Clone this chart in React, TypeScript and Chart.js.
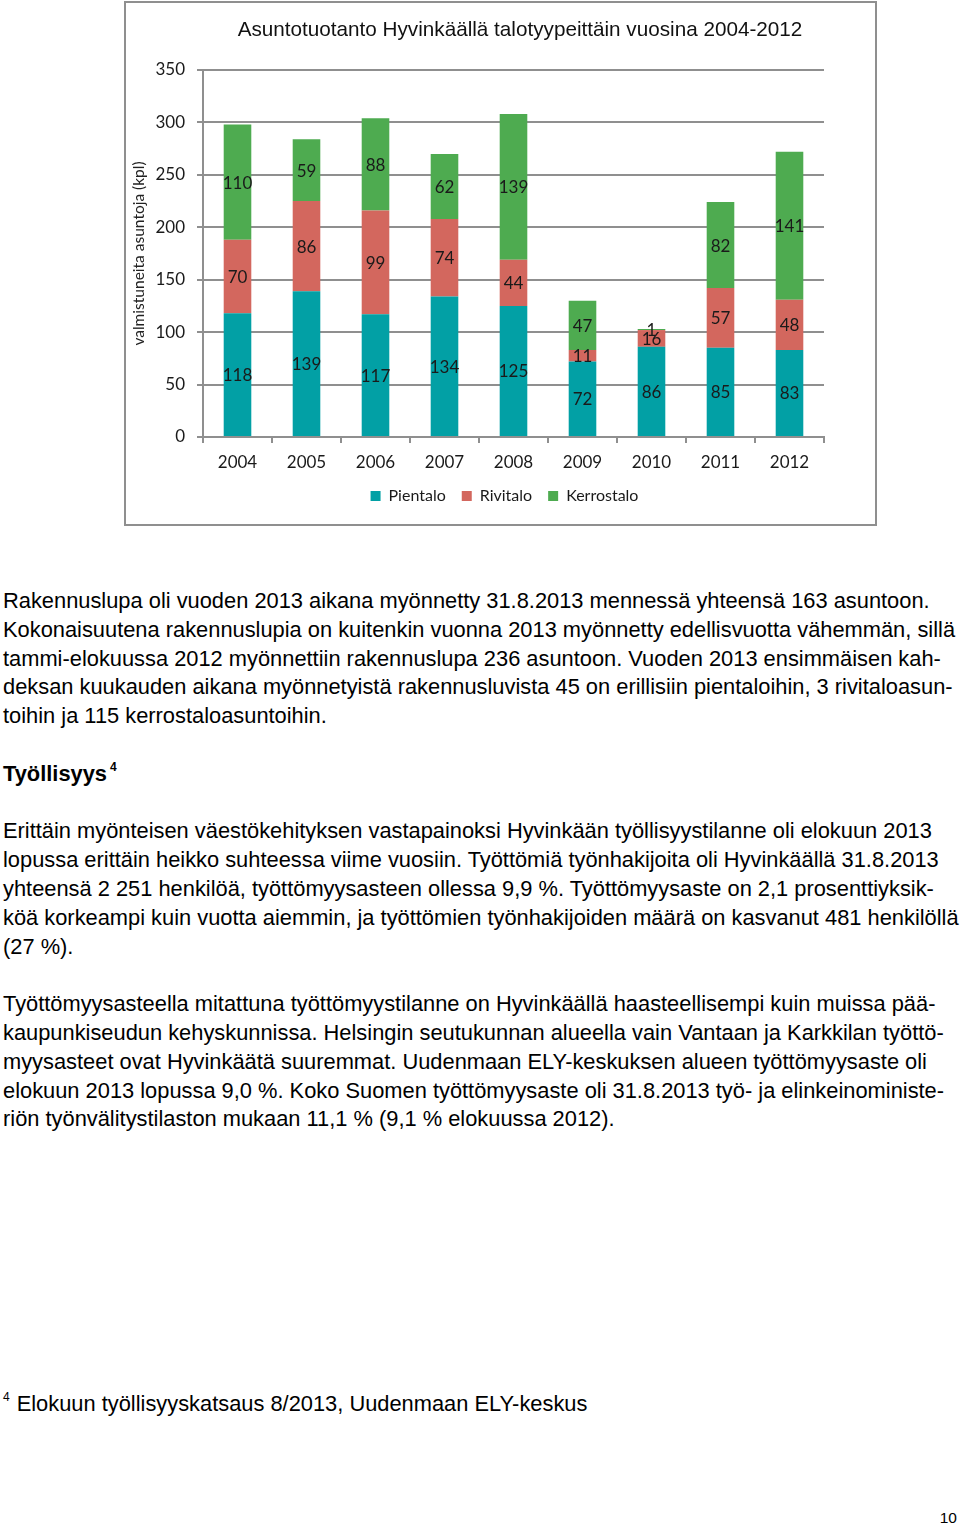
import React, { useEffect, useRef } from "react";
import { Chart, registerables } from "chart.js";

Chart.register(...registerables);

const YEARS = ["2004", "2005", "2006", "2007", "2008", "2009", "2010", "2011", "2012"];
const PIENTALO = [118, 139, 117, 134, 125, 72, 86, 85, 83];
const RIVITALO = [70, 86, 99, 74, 44, 11, 16, 57, 48];
const KERROSTALO = [110, 59, 88, 62, 139, 47, 1, 82, 141];
const SERIES_NAMES = ["Pientalo", "Rivitalo", "Kerrostalo"];
const SERIES_COLORS = ["#02a0a5", "#d3675e", "#4eab50"];
const Y_MAX = 350;
const Y_STEP = 50;
const CHART_TITLE = "Asuntotuotanto Hyvinkäällä talotyypeittäin vuosina 2004-2012";
const Y_TITLE = "valmistuneita asuntoja (kpl)";

const GRID = "#8f8f8f";
const CHART_FONT = "Lato, 'Open Sans', sans-serif";
const TEXT_FONT = "'Liberation Sans', Arial, sans-serif";

const PARA1 = [
  "Rakennuslupa oli vuoden 2013 aikana myönnetty 31.8.2013 mennessä yhteensä 163 asuntoon.",
  "Kokonaisuutena rakennuslupia on kuitenkin vuonna 2013 myönnetty edellisvuotta vähemmän, sillä",
  "tammi-elokuussa 2012 myönnettiin rakennuslupa 236 asuntoon. Vuoden 2013 ensimmäisen kah-",
  "deksan kuukauden aikana myönnetyistä rakennusluvista 45 on erillisiin pientaloihin, 3 rivitaloasun-",
  "toihin ja 115 kerrostaloasuntoihin.",
];
const PARA2 = [
  "Erittäin myönteisen väestökehityksen vastapainoksi Hyvinkään työllisyystilanne oli elokuun 2013",
  "lopussa erittäin heikko suhteessa viime vuosiin. Työttömiä työnhakijoita oli Hyvinkäällä 31.8.2013",
  "yhteensä 2 251 henkilöä, työttömyysasteen ollessa 9,9 %. Työttömyysaste on 2,1 prosenttiyksik-",
  "köä korkeampi kuin vuotta aiemmin, ja työttömien työnhakijoiden määrä on kasvanut 481 henkilöllä",
  "(27 %).",
];
const PARA3 = [
  "Työttömyysasteella mitattuna työttömyystilanne on Hyvinkäällä haasteellisempi kuin muissa pää-",
  "kaupunkiseudun kehyskunnissa. Helsingin seutukunnan alueella vain Vantaan ja Karkkilan työttö-",
  "myysasteet ovat Hyvinkäätä suuremmat. Uudenmaan ELY-keskuksen alueen työttömyysaste oli",
  "elokuun 2013 lopussa 9,0 %. Koko Suomen työttömyysaste oli 31.8.2013 työ- ja elinkeinoministe-",
  "riön työnvälitystilaston mukaan 11,1 % (9,1 % elokuussa 2012).",
];
const HEADING = "Työllisyys";
const FOOTNOTE = "Elokuun työllisyyskatsaus 8/2013, Uudenmaan ELY-keskus";
const PAGE_NO = "10";

const FS = 21.85;
const LINE = 28.8;
const B0 = 608.5;

const valueLabels = {
  id: "valueLabels",
  afterDatasetsDraw(chart: any) {
    const ctx = chart.ctx;
    ctx.save();
    ctx.font = `17px ${CHART_FONT}`;
    ctx.fillStyle = "#1a1a1a";
    ctx.textAlign = "center";
    ctx.textBaseline = "middle";
    chart.data.datasets.forEach((ds: any, i: number) => {
      const meta = chart.getDatasetMeta(i);
      meta.data.forEach((bar: any, j: number) => {
        const p = bar.getProps(["x", "y", "base"], true);
        ctx.fillText(String(ds.data[j]), p.x, (p.y + p.base) / 2 + 1);
      });
    });
    ctx.restore();
  },
};

function TextLine({ text, k }: { text: string; k: number }) {
  const baseline = B0 + LINE * k;
  return (
    <div
      style={{
        position: "absolute",
        left: 3,
        top: baseline - 0.8465 * FS,
        fontSize: FS,
        lineHeight: `${FS}px`,
        whiteSpace: "pre",
      }}
    >
      {text}
    </div>
  );
}

export default function App() {
  const canvasRef = useRef<HTMLCanvasElement | null>(null);

  useEffect(() => {
    const canvas = canvasRef.current;
    if (!canvas) return;
    const chart = new Chart(canvas, {
      type: "bar",
      data: {
        labels: YEARS,
        datasets: [PIENTALO, RIVITALO, KERROSTALO].map((d, i) => ({
          label: SERIES_NAMES[i],
          data: d,
          backgroundColor: SERIES_COLORS[i],
          borderWidth: 0,
          barPercentage: 0.4,
          categoryPercentage: 1,
        })),
      },
      options: {
        animation: false,
        responsive: false,
        layout: { padding: { top: 67, right: 0, left: 9, bottom: 9 } },
        plugins: {
          legend: {
            position: "bottom",
            labels: {
              boxWidth: 10,
              boxHeight: 10,
              padding: 16,
              color: "#1a1a1a",
              font: { family: CHART_FONT, size: 16 },
            },
          },
          title: { display: false },
          tooltip: { enabled: false },
        },
        scales: {
          x: {
            stacked: true,
            grid: {
              drawOnChartArea: false,
              drawTicks: true,
              tickLength: 6,
              color: GRID,
              lineWidth: 2,
              offset: true,
            },
            border: { display: true, color: GRID, width: 2 },
            ticks: { color: "#1a1a1a", padding: 9, font: { family: CHART_FONT, size: 17 } },
            afterFit: (s: any) => {
              s.height = 35;
            },
          },
          y: {
            stacked: true,
            min: 0,
            max: Y_MAX,
            ticks: { stepSize: Y_STEP, color: "#1a1a1a", padding: 12, font: { family: CHART_FONT, size: 17 } },
            grid: { color: GRID, lineWidth: 2, tickLength: 6 },
            border: { display: true, color: GRID, width: 2 },
            title: {
              display: true,
              text: Y_TITLE,
              color: "#222",
              font: { family: CHART_FONT, size: 15.5 },
              padding: { top: -5, bottom: 0 },
            },
            afterFit: (s: any) => {
              s.width = 68;
            },
          },
          yRight: {
            type: "linear",
            position: "right",
            display: true,
            grid: { display: false },
            border: { display: false },
            ticks: { display: false },
            afterFit: (s: any) => {
              s.width = 50;
            },
          },
        },
      },
      plugins: [valueLabels],
    });
    return () => chart.destroy();
  }, []);

  return (
    <div
      style={{
        position: "absolute",
        left: 0,
        top: 0,
        width: 960,
        height: 1524,
        background: "#fff",
        color: "#000",
        fontFamily: TEXT_FONT,
        overflow: "hidden",
      }}
    >
      <div
        style={{
          position: "absolute",
          left: 124,
          top: 1,
          width: 753,
          height: 525,
          border: `2px solid ${GRID}`,
          boxSizing: "border-box",
        }}
      />
      <div style={{ position: "absolute", left: 126, top: 3, width: 748, height: 520 }}>
        <canvas ref={canvasRef} width={748} height={520} style={{ display: "block" }} />
      </div>
      <div
        style={{
          position: "absolute",
          left: 220,
          width: 600,
          top: 37 - 0.8465 * 20.7,
          fontSize: 20.7,
          lineHeight: "20.7px",
          textAlign: "center",
          whiteSpace: "pre",
          color: "#111",
        }}
      >
        {CHART_TITLE}
      </div>

      {PARA1.map((t, i) => (
        <TextLine key={"p1" + i} text={t} k={i} />
      ))}
      <div
        style={{
          position: "absolute",
          left: 3,
          top: B0 + LINE * 6 - 0.8465 * FS,
          fontSize: FS,
          lineHeight: `${FS}px`,
          whiteSpace: "pre",
          fontWeight: "bold",
        }}
      >
        {HEADING}
        <span style={{ fontSize: 12, lineHeight: 0, position: "relative", top: -10, marginLeft: 3 }}>4</span>
      </div>
      {PARA2.map((t, i) => (
        <TextLine key={"p2" + i} text={t} k={8 + i} />
      ))}
      {PARA3.map((t, i) => (
        <TextLine key={"p3" + i} text={t} k={14 + i} />
      ))}

      <div
        style={{
          position: "absolute",
          left: 3,
          top: 1411 - 0.8465 * FS,
          fontSize: FS,
          lineHeight: `${FS}px`,
          whiteSpace: "pre",
        }}
      >
        <span style={{ fontSize: 12, lineHeight: 0, position: "relative", top: -10, marginRight: 7 }}>4</span>
        {FOOTNOTE}
      </div>
      <div
        style={{
          position: "absolute",
          right: 3,
          top: 1523 - 0.8465 * 15.5,
          fontSize: 15.5,
          lineHeight: "15.5px",
          whiteSpace: "pre",
        }}
      >
        {PAGE_NO}
      </div>
    </div>
  );
}
